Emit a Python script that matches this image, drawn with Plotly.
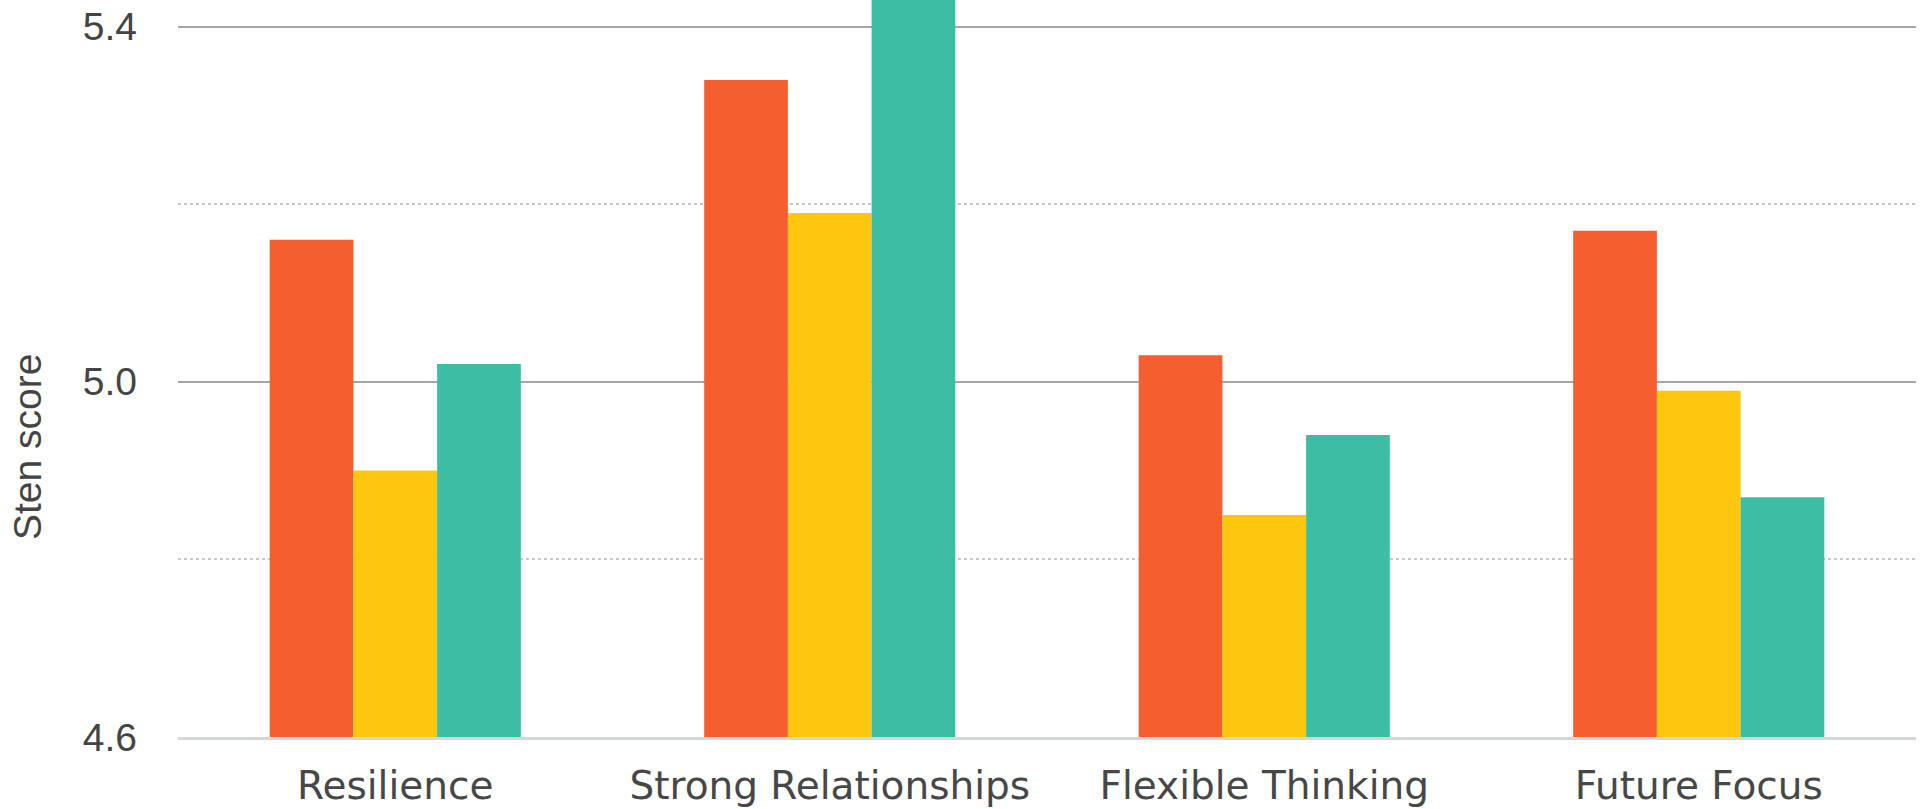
import plotly.graph_objects as go

# Categories and mean sten scores for each of the three groups
categories = ["Resilience", "Strong Relationships", "Flexible Thinking", "Future Focus"]
group_a = [5.16, 5.34, 5.03, 5.17]
group_b = [4.90, 5.19, 4.85, 4.99]
group_c = [5.02, 5.45, 4.94, 4.87]

y_ticks = [4.6, 5.0, 5.4]
y_tick_labels = ["4.6", "5.0", "5.4"]

colors = ["#F55F30", "#FDC70F", "#3EBDA5"]

fig = go.Figure()
for name, vals, col in zip(["Group A", "Group B", "Group C"],
                           [group_a, group_b, group_c], colors):
    fig.add_trace(go.Bar(x=categories, y=vals, name=name,
                         marker=dict(color=col, line=dict(width=0))))

fig.update_layout(
    width=1922, height=809, autosize=False,
    margin=dict(l=178, r=6, t=0, b=72, pad=0),
    paper_bgcolor="white", plot_bgcolor="white",
    barmode="group", bargap=0.422, bargroupgap=0,
    showlegend=False,
    font=dict(family="Liberation Sans, Arial, sans-serif", color="#444444"),
)

fig.update_yaxes(
    range=[4.6, 5.43], automargin=False,
    tickmode="array", tickvals=y_ticks, ticktext=y_tick_labels,
    tickfont=dict(size=39, family="Liberation Sans, Arial, sans-serif", color="#444444"),
    ticklabelstandoff=40,
    showgrid=True, gridcolor="#a6a6a6", gridwidth=2,
    minor=dict(dtick=0.2, tick0=4.6, showgrid=True, griddash="dot",
               gridcolor="#c8c8c8", gridwidth=2),
    zeroline=False, showline=False, ticks="",
)

fig.update_xaxes(
    automargin=False,
    tickfont=dict(size=39, family="DejaVu Sans, sans-serif", color="#474747"),
    ticklabelstandoff=12,
    showline=True, linecolor="#d4d7da", linewidth=3,
    showgrid=False, ticks="",
)

fig.add_annotation(
    text="Sten score", textangle=-90,
    xref="paper", yref="paper", x=-0.0863, y=0.3935,
    xanchor="center", yanchor="middle", showarrow=False,
    font=dict(size=39, family="Liberation Sans, Arial, sans-serif", color="#444444"),
)

fig.write_html("out.html")
